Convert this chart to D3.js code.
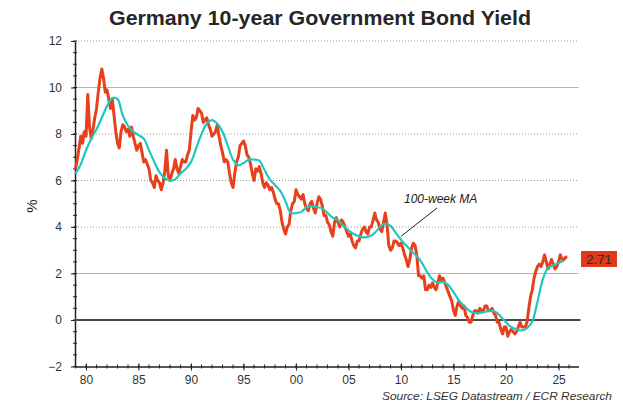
<!DOCTYPE html>
<html>
<head>
<meta charset="utf-8">
<script src="https://cdn.jsdelivr.net/npm/d3@7"></script>
<style>
    body { margin: 0; background: #fff; }
    #chart { width: 623px; height: 404px; }
    text { font-family: "Liberation Sans", Arial, sans-serif; }
</style>
</head>
<body>
<div id="chart"></div>
<script>
// weekly yield sampled every two months, starting Jan 1979
const yieldStart = 1979;
const yieldStep = 1 / 6;
const yieldValues = [
    6.5, 6.9, 7.4, 7.9, 7.6, 8.1,
    7.9, 9.7, 8.3, 7.8, 8.2, 8.7,
    9.1, 9.8, 10.4, 10.8, 10.4, 9.8,
    9.9, 9.5, 9.1, 9.5, 8.8, 8.1,
    7.6, 7.4, 8.1, 8.4, 8.3, 8.1,
    8.2, 7.9, 8.3, 7.9, 7.6, 7.3,
    7.5, 7.6, 7.2, 6.8, 6.9, 6.7,
    6.5, 6.0, 5.9, 5.7, 6.2, 6.0,
    5.9, 5.6, 5.9, 6.4, 7.3, 6.2,
    6.0, 6.3, 6.5, 6.9, 6.5, 6.3,
    6.6, 6.9, 6.8, 6.8, 7.1, 7.3,
    8.1, 8.8, 8.6, 8.7, 9.1, 9.0,
    8.9, 8.5, 8.6, 8.7, 8.4, 8.2,
    7.9, 8.0, 8.1, 8.4, 7.9, 7.5,
    7.2, 6.8, 6.9, 6.8, 6.3, 5.9,
    5.7, 6.3, 6.8, 7.0, 7.5, 7.6,
    7.7, 7.5, 7.1, 7.0, 6.7, 6.3,
    6.0, 6.5, 6.4, 6.6, 6.3, 5.9,
    5.7, 5.9, 5.8, 5.6, 5.7, 5.5,
    5.2, 5.0, 5.0, 4.7, 4.2, 3.9,
    3.7, 4.0, 4.1, 4.7, 5.0, 5.1,
    5.6, 5.4, 5.3, 5.2, 5.4, 5.0,
    4.8, 4.7, 5.0, 5.1, 4.8, 4.6,
    5.0, 5.3, 5.2, 4.9, 4.5, 4.5,
    4.2, 4.1, 3.8, 3.6, 4.2, 4.4,
    4.2, 4.0, 4.3, 4.2, 4.0, 3.8,
    3.6, 3.7, 3.4, 3.2, 3.1, 3.4,
    3.4, 3.7, 3.9, 4.0, 3.8, 3.7,
    4.0, 4.0, 4.3, 4.6, 4.3, 4.2,
    3.9, 3.8, 4.2, 4.6, 4.1, 3.2,
    3.0, 3.1, 3.4, 3.4, 3.3, 3.2,
    3.3, 3.1, 2.8, 2.6, 2.3, 2.6,
    3.1, 3.3, 3.2, 2.8, 1.9, 1.9,
    1.8, 1.9, 1.3, 1.3, 1.5, 1.4,
    1.6, 1.4, 1.3, 1.6, 1.9, 1.7,
    1.8, 1.6, 1.4, 1.2, 1.0, 0.8,
    0.4, 0.2, 0.6, 0.8, 0.6, 0.5,
    0.6, 0.2, 0.1, -0.1, -0.1, 0.2,
    0.4, 0.4, 0.3, 0.5, 0.4, 0.4,
    0.6, 0.6, 0.4, 0.4, 0.5, 0.3,
    0.2, -0.1, -0.1, -0.4, -0.6, -0.3,
    -0.3, -0.7, -0.5, -0.4, -0.5, -0.6,
    -0.5, -0.3, -0.1, -0.3, -0.3, -0.3,
    -0.1, 0.5, 1.0, 1.3, 1.8, 2.1,
    2.3, 2.4, 2.3, 2.5, 2.8, 2.5,
    2.2, 2.4, 2.6, 2.4, 2.2, 2.3,
    2.5, 2.8, 2.6, 2.6, 2.7, 2.71
];

// 100-week moving average, read every half year
const maStart = 1979;
const maStep = 0.5;
const maValues = [
    6.3, 6.7, 7.3, 7.8, 8.2, 8.7, 9.2, 9.55, 9.5, 8.8,
    8.35, 8.1, 7.95, 7.8, 7.3, 6.8, 6.35, 6.1, 6.0, 6.05,
    6.3, 6.5, 6.8, 7.4, 8.0, 8.45, 8.6, 8.45, 8.1, 7.5,
    6.9, 6.65, 6.75, 6.9, 6.9, 6.85, 6.45, 6.05, 5.8, 5.55,
    5.1, 4.6, 4.6, 4.65, 4.85, 4.9, 4.85, 4.8, 4.6, 4.4,
    4.3, 4.05, 3.85, 3.7, 3.6, 3.55, 3.6, 3.75, 4.0, 4.15,
    4.05, 3.75, 3.45, 3.2, 2.95, 2.75, 2.45, 2.05, 1.75, 1.6,
    1.65, 1.5, 1.2, 0.85, 0.6, 0.4, 0.3, 0.3, 0.35, 0.4,
    0.35, 0.15, -0.1, -0.3, -0.4, -0.45, -0.35, -0.05, 0.8, 1.75,
    2.25, 2.35, 2.45, 2.55
];

const yTicks = [-2, 0, 2, 4, 6, 8, 10, 12];
const xTicks = [1980, 1985, 1990, 1995, 2000, 2005, 2010, 2015, 2020, 2025];
const solidGrid = [10, 2];
const lastValue = "2.71";

const width = 623;
const height = 404;

const svg = d3.select("#chart")
    .append("svg")
    .attr("width", width)
    .attr("height", height);

const xScale = d3.scaleLinear()
    .domain([1978.95, 2026.9])
    .range([75, 578.5]);

const yScale = d3.scaleLinear()
    .domain([-2, 12])
    .range([366.5, 41]);

const yieldData = yieldValues.map(function (v, i) { return { date: yieldStart + i * yieldStep, value: v }; });
const maData = maValues.map(function (v, i) { return { date: maStart + i * maStep, value: v }; });

// title
svg.append("text")
    .attr("x", 320)
    .attr("y", 25)
    .attr("text-anchor", "middle")
    .attr("font-size", "20px")
    .attr("font-weight", "bold")
    .attr("fill", "#262626")
    .attr("textLength", 422)
    .attr("lengthAdjust", "spacingAndGlyphs")
    .text("Germany 10-year Government Bond Yield");

// grid lines
for (let i = 0; i < yTicks.length; i++) {
    const t = yTicks[i];
    if (t == -2 || t == 0) continue;
    const line = svg.append("line")
        .attr("x1", xScale.range()[0])
        .attr("x2", xScale.range()[1])
        .attr("y1", yScale(t))
        .attr("y2", yScale(t));
    if (solidGrid.includes(t)) {
        line.attr("stroke", "#b5b5b5").attr("stroke-width", 1);
    }
    else {
        line.attr("stroke", "#9a9a9a").attr("stroke-width", 1).attr("stroke-dasharray", "1,2");
    }
}

// y axis
const yAxis = svg.append("g")
    .attr("transform", `translate(${xScale.range()[0]}, 0)`)
    .call(d3.axisLeft(yScale).tickValues(yTicks).tickSize(4).tickPadding(9).tickSizeOuter(0));
yAxis.select(".domain").attr("stroke", "#222").attr("stroke-width", 1.5);
yAxis.selectAll(".tick line").attr("stroke", "#222");
yAxis.selectAll(".tick text")
    .attr("font-family", "Liberation Sans, Arial, sans-serif")
    .attr("font-size", "12px")
    .attr("fill", "#333");

// y minor ticks
const yMinor = d3.range(-2, 12.01, 0.5);
svg.append("g").selectAll("line")
    .data(yMinor)
    .join("line")
    .attr("x1", xScale.range()[0] - 2)
    .attr("x2", xScale.range()[0] + 2)
    .attr("y1", function (d) { return yScale(d); })
    .attr("y2", function (d) { return yScale(d); })
    .attr("stroke", "#222");

// zero line
svg.append("line")
    .attr("x1", xScale.range()[0])
    .attr("x2", xScale.range()[1] + 2)
    .attr("y1", yScale(0))
    .attr("y2", yScale(0))
    .attr("stroke", "#4a4a4a")
    .attr("stroke-width", 2);

// x axis
const xAxis = svg.append("g")
    .attr("transform", `translate(0, ${yScale(-2)})`)
    .call(d3.axisBottom(xScale).tickValues(xTicks).tickSize(4).tickPadding(5).tickSizeOuter(0)
        .tickFormat(function (d) { return String(d % 100).padStart(2, "0"); }));
xAxis.select(".domain").attr("stroke", "#222").attr("stroke-width", 1.5);
xAxis.selectAll(".tick line").attr("stroke", "#222").attr("y1", -3);
xAxis.selectAll(".tick text")
    .attr("font-family", "Liberation Sans, Arial, sans-serif")
    .attr("font-size", "12px")
    .attr("fill", "#333");

// x minor ticks
const xMinor = d3.range(1979, 2027, 1);
svg.append("g").selectAll("line")
    .data(xMinor)
    .join("line")
    .attr("x1", function (d) { return xScale(d); })
    .attr("x2", function (d) { return xScale(d); })
    .attr("y1", yScale(-2) - 2)
    .attr("y2", yScale(-2) + 2)
    .attr("stroke", "#222");

// y-axis title
svg.append("text")
    .attr("transform", "translate(37, 206) rotate(-90)")
    .attr("text-anchor", "middle")
    .attr("font-size", "15px")
    .attr("fill", "#222")
    .text("%");

const line = d3.line()
    .x(function (d) { return xScale(d.date); })
    .y(function (d) { return yScale(d.value); });

// yield
svg.append("path")
    .datum(yieldData)
    .attr("fill", "none")
    .attr("stroke", "#e8401c")
    .attr("stroke-width", 3)
    .attr("stroke-linejoin", "round")
    .attr("d", line);

// moving average
svg.append("path")
    .datum(maData)
    .attr("fill", "none")
    .attr("stroke", "#1ec8be")
    .attr("stroke-width", 2.2)
    .attr("d", line.curve(d3.curveCatmullRom));

// annotation
svg.append("line")
    .attr("x1", 437)
    .attr("y1", 208)
    .attr("x2", xScale(2010.0))
    .attr("y2", yScale(3.6))
    .attr("stroke", "#222")
    .attr("stroke-width", 1);

svg.append("text")
    .attr("x", 404)
    .attr("y", 203)
    .attr("font-size", "12px")
    .attr("font-style", "italic")
    .attr("fill", "#222")
    .text("100-week MA");

// last value box
const lastY = yScale(+lastValue);
svg.append("rect")
    .attr("x", 581)
    .attr("y", lastY - 6)
    .attr("width", 36)
    .attr("height", 16)
    .attr("fill", "#e03a1c");

svg.append("text")
    .attr("x", 599)
    .attr("y", lastY + 2)
    .attr("dy", "0.35em")
    .attr("text-anchor", "middle")
    .attr("font-size", "13px")
    .attr("fill", "#2a2a2a")
    .text(lastValue);

// source
svg.append("text")
    .attr("x", 612)
    .attr("y", 400)
    .attr("text-anchor", "end")
    .attr("font-size", "10.5px")
    .attr("font-style", "italic")
    .attr("fill", "#333")
    .attr("textLength", 230)
    .attr("lengthAdjust", "spacingAndGlyphs")
    .text("Source: LSEG Datastream / ECR Research");
</script>
</body>
</html>
